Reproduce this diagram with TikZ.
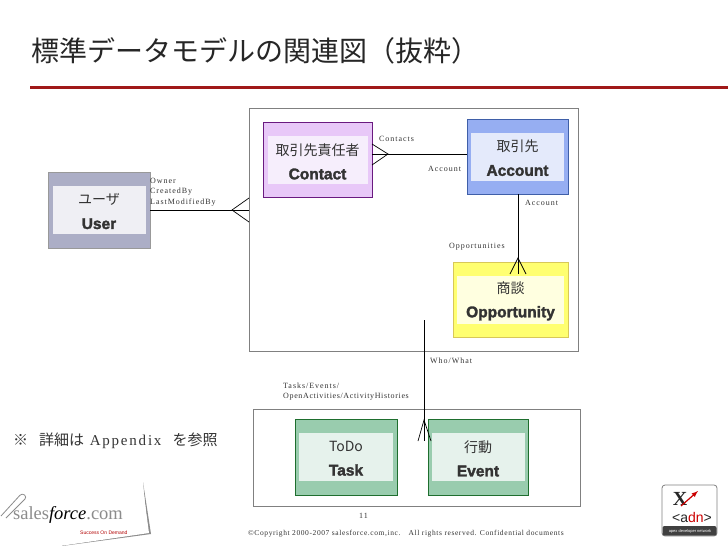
\documentclass[tikz,border=0pt]{standalone}
\usepackage{fontspec}
\setmainfont{Liberation Serif}
\newfontfamily\cjk{Noto Sans CJK JP}
\newfontfamily\lblfont[LetterSpace=12]{Liberation Serif}
\newfontfamily\copyfont[LetterSpace=8]{Liberation Serif}
\newfontfamily\namefont[BoldFeatures={FakeBold=2}]{Liberation Sans}
\usepackage{xcolor}
\definecolor{usrout}{HTML}{ACAEC6}
\definecolor{usrin}{HTML}{EFEFF4}
\definecolor{conout}{HTML}{E8C8F8}
\definecolor{conin}{HTML}{F6EEFC}
\definecolor{conline}{HTML}{6A1A80}
\definecolor{accout}{HTML}{96AEF2}
\definecolor{accin}{HTML}{E4EAFB}
\definecolor{accline}{HTML}{3F5FA8}
\definecolor{oppout}{HTML}{FFFF70}
\definecolor{oppin}{HTML}{FFFFE0}
\definecolor{oppline}{HTML}{D8C858}
\definecolor{actout}{HTML}{99CCAE}
\definecolor{actin}{HTML}{E6F2EC}
\definecolor{actline}{HTML}{1E6E2E}
\definecolor{rulered}{HTML}{A01818}
\tikzset{
  entity/.style 2 args={draw=#1, fill=#2, line width=0.8pt, inner sep=0pt},
  inbox/.style={inner sep=0pt, align=center, yshift=-1.5pt, font=\cjk\fontsize{14}{24}\selectfont, text=black!80},
  lbl/.style={anchor=west, inner sep=0pt, font=\lblfont\fontsize{8}{11}\selectfont, text=black!80, align=left},
  area/.style={draw=black!50, line width=0.8pt, inner sep=0pt},
  rel/.style={black, line width=1pt},
  foot/.style={black, line width=0.7pt}
}
\newcommand{\nm}[1]{{\namefont\bfseries\fontsize{15.5}{24}\selectfont #1}}
\begin{document}
\begin{tikzpicture}[x=1pt, y=-1pt]
    \useasboundingbox (0,0) rectangle (728,546);
    % title
    \node[anchor=west, inner sep=0pt, font=\cjk\fontsize{28}{28}\selectfont, text=black!85] (title) at (31,51) {標準データモデルの関連図（抜粋）};
    \coordinate (rulel) at (30,87);
    \coordinate (ruler) at (728,87);
    \draw[rulered, line width=3pt] (rulel) -- (ruler);
    % areas
    \node[area, minimum width=329pt, minimum height=243pt] (dataarea) at (413.5,229.5) {};
    \node[area, minimum width=327pt, minimum height=97pt] (actarea) at (416.5,457.5) {};
    % entities
    \node[entity={black!40}{usrout}, minimum width=102pt, minimum height=76pt] (user) at (99,210) {};
    \node[entity={conline}{conout}, minimum width=109pt, minimum height=75pt] (contact) at (317.5,160) {};
    \node[entity={accline}{accout}, minimum width=101pt, minimum height=75pt] (account) at (517.5,156.5) {};
    \node[entity={oppline}{oppout}, minimum width=115pt, minimum height=75pt] (opportunity) at (510.5,299.5) {};
    \node[entity={actline}{actout}, minimum width=102pt, minimum height=76pt] (task) at (346,457) {};
    \node[entity={actline}{actout}, minimum width=100pt, minimum height=76pt] (event) at (478,457) {};
    \foreach \n/\w/\c in {user/93/usrin, contact/100/conin, account/93/accin, opportunity/107/oppin, task/94/actin, event/93/actin}
      \fill[\c] ([xshift=-\w/2*1pt, yshift=24pt]\n.center) rectangle ([xshift=\w/2*1pt, yshift=-24pt]\n.center);
    \node[inbox] (usertxt) at (user) {ユーザ\\\nm{User}};
    \node[inbox] (contacttxt) at (contact) {取引先責任者\\\nm{Contact}};
    \node[inbox] (accounttxt) at (account) {取引先\\\nm{Account}};
    \node[inbox] (opportunitytxt) at (opportunity) {商談\\\nm{Opportunity}};
    \node[inbox] (tasktxt) at (task) {ToDo\\\nm{Task}};
    \node[inbox] (eventtxt) at (event) {行動\\\nm{Event}};
    % connectors
    \coordinate (userfoot) at (232,210);
    \coordinate (contactfoot) at (388,154);
    \coordinate (oppfoot) at (518,258);
    \coordinate (whotop) at (424,320);
    \coordinate (whofoot) at (424,420);
    \draw[rel] (user.east) -- (user.east -| dataarea.west);
    \draw[foot] (249,198) -- (userfoot) -- (249,222);
    \draw[rel] (account.west |- contactfoot) -- (contact.east |- contactfoot);
    \draw[foot] (372,144) -- (contactfoot) -- (372,165);
    \draw[rel] (oppfoot |- account.south) -- (518,274);
    \draw[foot] (510,274) -- (oppfoot) -- (526,274);
    \draw[rel] (whotop) -- (424,441);
    \draw[foot] (418,441) -- (whofoot) -- (431,441);
    % labels
    \node[lbl] (ownerlbl) at (150,181) {Owner};
    \node[lbl] (createdlbl) at (150,192) {CreatedBy};
    \node[lbl] (modifiedlbl) at (150,203) {LastModifiedBy};
    \node[lbl] (contactslbl) at (379,139) {Contacts};
    \node[lbl] (accountlbl) at (428,169) {Account};
    \node[lbl] (accountlblb) at (525,203) {Account};
    \node[lbl] (opplbl) at (449,247) {Opportunities};
    \node[lbl] (wholbl) at (430,361) {Who/What};
    \node[lbl] (taskslbl) at (283,386) {Tasks/Events/};
    \node[lbl, font=\copyfont\fontsize{8}{11}\selectfont] (histlbl) at (283,397) {OpenActivities/ActivityHistories};
    \node[lbl] (pagelbl) at (359,516) {11};
    \node[lbl, font=\copyfont\fontsize{7.5}{11}\selectfont] (copylbl) at (248,534) {©Copyright 2000-2007 salesforce.com,inc. \ \ All rights reserved. Confidential documents};
    \node[anchor=west, inner sep=0pt, font=\fontsize{15}{15}\selectfont, text=black!80] (note) at (13,441) {{\cjk ※}\hspace{11pt}{\cjk 詳細は}{\lblfont\fontsize{15}{15}\selectfont\ Appendix}\hspace{11pt}{\cjk を参照}};
    % salesforce note
    \fill[black!45] (143,482) -- (151,534) -- (62,546) -- (60,545) -- (148,532) -- cycle;
    \fill[white] (0,498) -- (142,481) -- (149,533) -- (60,546) -- (0,546) -- cycle;
    \draw[black!45, line width=0.8pt, rounded corners=3pt] (1,516) -- (22,493) -- (27,497) -- (6,518);
    \begin{scope}[shift={(68,515)}, rotate=-8]
      \node[inner sep=0pt, font=\fontsize{18.5}{18.5}\selectfont, text=black!45] (sfname) at (0,0) {sales\textcolor{black}{\textit{force}}.com};
      \node[inner sep=0pt, font=\namefont\fontsize{5}{5}\selectfont, text=red!70!black] (sfline) at (38,13) {Success On Demand};
    \end{scope}
    % adn logo
    \fill[white, draw=black!50, line width=0.8pt, rounded corners=3pt] (662,485) rectangle (717,536);
    \fill[black!75, rounded corners=2pt] (662.5,526) rectangle (716.5,535.5);
    \node[inner sep=0pt, font=\bfseries\fontsize{20}{20}\selectfont, text=black!85] (adnx) at (680,499) {X};
    \draw[red!80!black, line width=1.2pt, -latex] (681,506) -- (698,491);
    \node[inner sep=0pt, font=\namefont\fontsize{14}{14}\selectfont, text=black!85] (adnname) at (692,517) {<a\textcolor{red!80!black}{dn}>};
    \node[inner sep=0pt, font=\namefont\fontsize{4}{4}\selectfont, text=white] (adnline) at (690,531) {apex developer network};
\end{tikzpicture}
\end{document}
